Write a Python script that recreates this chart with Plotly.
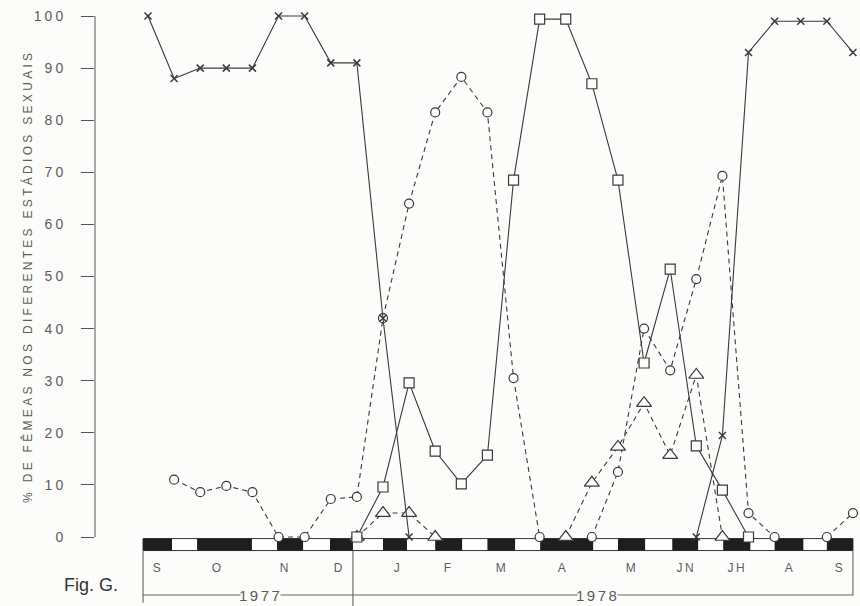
import plotly.graph_objects as go

# ---- data (fortnightly samples, Sep 1977 - Sep 1978) ----
samples = list(range(28))

# "x" marks, solid line
stage_cross = [100, 88, 90, 90, 90, 100, 100, 91, 91, 42, 0,
               None, None, None, None, None, None, None, None, None, None,
               0, 19.5, 93, 99, 99, 99, 93]
# open circles, dashed line
stage_circle = [None, 11, 8.6, 9.8, 8.6, 0, 0, 7.3, 7.7, 42, 64, 81.5, 88.3, 81.5,
                30.5, 0, None, 0, 12.5, 40, 32, 49.5, 69.3, 4.6, 0, None, 0, 4.6]
# open squares, solid line
stage_square = [None] * 8 + [0, 9.6, 29.6, 16.5, 10.2, 15.7, 68.5, 99.4, 99.4, 87,
                             68.5, 33.4, 51.4, 17.5, 9, 0] + [None] * 4
# open triangles, dashed line
stage_triangle = [None] * 8 + [0, 4.6, 4.6, 0, None, None, None, None,
                               0, 10.4, 17.3, 25.7, 15.7, 31.1, 0] + [None] * 5

month_labels = ["S", "O", "N", "D", "J", "F", "M", "A", "M", "JN", "JH", "A", "S"]
month_pos = [0.38, 2.68, 5.25, 7.35, 9.57, 11.49, 13.56, 15.89, 18.54, 20.64, 22.56, 24.59, 26.5]
year_labels = ["1977", "1978"]
year_pos = [4.29, 17.2]
year_start = [-0.19, 7.85]
year_end = [7.85, 27.0]

black_periods = [(-0.19, 0.92), (1.88, 3.98), (4.94, 5.94), (6.97, 7.85), (9.0, 9.92),
                 (11.0, 12.03), (13.0, 14.06), (15.02, 17.05), (18.0, 19.04),
                 (20.08, 21.07), (22.03, 23.07), (24.0, 25.1), (26.0, 27.0)]

y_ticks = [0, 10, 20, 30, 40, 50, 60, 70, 80, 90, 100]
y_title = "% DE FÊMEAS NOS DIFERENTES ESTÁDIOS SEXUAIS"
fig_label = "Fig. G."

# ---- styling ----
BG = "#fcfcfa"
INK = "#3a3a3a"
TXT = "#5c5c5c"
FONT = "Liberation Sans"

fig = go.Figure()

fig.add_trace(go.Scatter(
    x=samples, y=stage_circle, mode="lines+markers",
    line=dict(color=INK, width=1.1, dash="5px,4px"),
    marker=dict(symbol="circle", size=9, color=BG, line=dict(color=INK, width=1.2)),
    showlegend=False, cliponaxis=False))
fig.add_trace(go.Scatter(
    x=samples, y=stage_triangle, mode="lines+markers",
    line=dict(color=INK, width=1.1, dash="5px,4px"),
    marker=dict(symbol="triangle-up", size=13, color=BG, line=dict(color=INK, width=1.2)),
    showlegend=False, cliponaxis=False))
fig.add_trace(go.Scatter(
    x=samples, y=stage_square, mode="lines+markers",
    line=dict(color=INK, width=1.1),
    marker=dict(symbol="square", size=10, color=BG, line=dict(color=INK, width=1.2)),
    showlegend=False, cliponaxis=False))
fig.add_trace(go.Scatter(
    x=samples, y=stage_cross, mode="lines+markers",
    line=dict(color=INK, width=1.1),
    marker=dict(symbol="x-thin", size=7, color=INK, line=dict(color=INK, width=1.5)),
    showlegend=False, cliponaxis=False))

shapes = []
BAR_TOP, BAR_BOT = -0.3, -2.6
LINE_Y = -11.13
# y axis line
shapes.append(dict(type="line", xref="paper", yref="y", x0=0, x1=0, y0=0, y1=100,
                   line=dict(color="#555", width=1), layer="below"))
# bar frame
shapes.append(dict(type="rect", xref="x", yref="y", x0=year_start[0], x1=year_end[-1],
                   y0=BAR_BOT, y1=BAR_TOP, fillcolor="white",
                   line=dict(color="#333", width=1), layer="below"))
for a, b in black_periods:
    shapes.append(dict(type="rect", xref="x", yref="y", x0=a, x1=b, y0=BAR_BOT, y1=BAR_TOP,
                       fillcolor="#1e1e1e", line=dict(width=0), layer="below"))
# verticals under the bar
shapes.append(dict(type="line", x0=year_start[0], x1=year_start[0], y0=BAR_BOT, y1=-12.6,
                   line=dict(color="#555", width=1), layer="below"))
shapes.append(dict(type="line", x0=year_start[1], x1=year_start[1], y0=BAR_BOT, y1=-13.3,
                   line=dict(color="#555", width=1), layer="below"))
shapes.append(dict(type="line", x0=year_end[1], x1=year_end[1], y0=BAR_BOT, y1=-11.2,
                   line=dict(color="#555", width=1), layer="below"))
# year line
shapes.append(dict(type="line", x0=year_start[0], x1=year_end[1], y0=LINE_Y, y1=LINE_Y,
                   line=dict(color="#666", width=1), layer="below"))

annotations = []
for lab, p in zip(month_labels, month_pos):
    annotations.append(dict(x=p, y=-5.85, xref="x", yref="y", text=lab, showarrow=False,
                            font=dict(family=FONT, size=12, color=TXT)))
for lab, p in zip(year_labels, year_pos):
    annotations.append(dict(x=p, y=LINE_Y, xref="x", yref="y", text=lab, showarrow=False,
                            bgcolor=BG, borderpad=3,
                            font=dict(family=FONT, size=15, color=TXT)))
annotations.append(dict(x=0.033, y=-9.2, xref="paper", yref="y", text=fig_label,
                        xanchor="right", showarrow=False,
                        font=dict(family=FONT, size=18, color="#333")))
annotations.append(dict(x=-0.1007, y=50, xref="paper", yref="y", text=y_title,
                        textangle=-90, showarrow=False,
                        font=dict(family=FONT, size=12, color=TXT)))

fig.update_layout(
    width=860, height=606,
    margin=dict(l=95, r=0, t=0, b=0),
    paper_bgcolor=BG, plot_bgcolor=BG,
    xaxis=dict(range=[-2.03, 27.27], visible=False),
    yaxis=dict(range=[-13.24, 103.07], tickvals=y_ticks,
               ticktext=[str(v) for v in y_ticks],
               ticks="outside", ticklen=13, tickwidth=1, tickcolor="#555",
               ticklabelstandoff=12,
               showline=False, showgrid=False, zeroline=False,
               tickfont=dict(family=FONT, size=14, color=TXT)),
    shapes=shapes, annotations=annotations,
)

post = """
document.body.style.margin = '0';
document.body.style.padding = '0';
document.body.style.background = '#fcfcfa';
var gd = document.getElementById('{plot_id}');
gd.querySelectorAll('.ytick text').forEach(function(t){ t.style.letterSpacing = '3px'; });
gd.querySelectorAll('.annotation-text').forEach(function(t){
  var s = t.textContent;
  if (s.indexOf('SEXUAIS') >= 0) { t.style.letterSpacing = '3.3px'; }
  else if (s === 'Fig. G.') { }
  else { t.style.letterSpacing = '2.5px'; }
});
"""

fig.write_html("out.html", post_script=post, config={"displayModeBar": False})
